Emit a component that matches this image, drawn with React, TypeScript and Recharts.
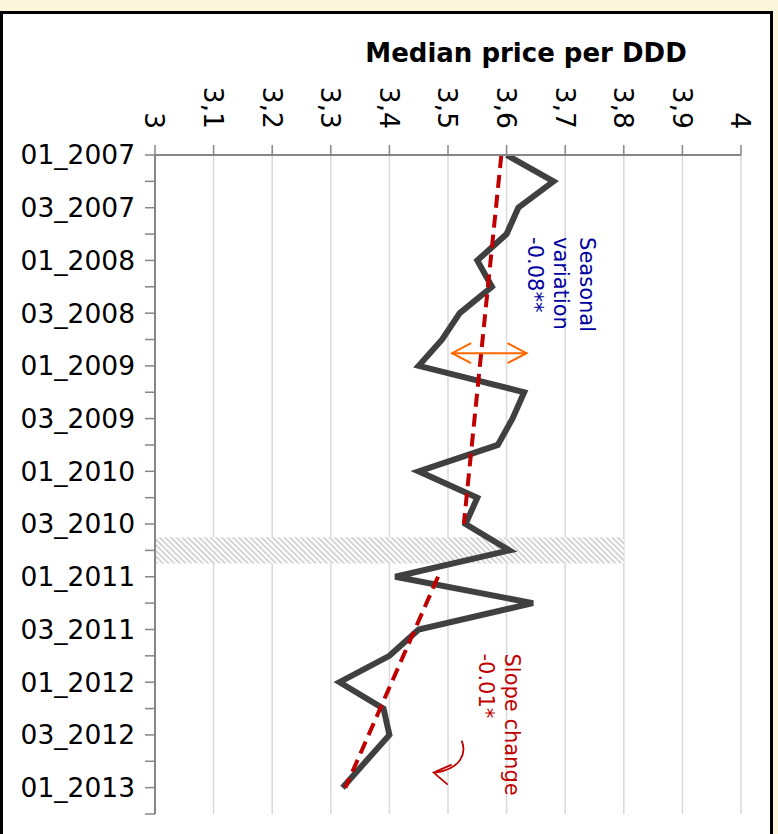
import React from 'react';
import {
  ComposedChart,
  Line,
  XAxis,
  YAxis,
  CartesianGrid,
  ReferenceArea,
  ReferenceDot,
  ReferenceLine,
} from 'recharts';

// ---------- data ----------
const periods = [
  '01_2007', '02_2007', '03_2007', '04_2007',
  '01_2008', '02_2008', '03_2008', '04_2008',
  '01_2009', '02_2009', '03_2009', '04_2009',
  '01_2010', '02_2010', '03_2010', '04_2010',
  '01_2011', '02_2011', '03_2011', '04_2011',
  '01_2012', '02_2012', '03_2012', '04_2012',
  '01_2013', '02_2013',
];

const medianPrice = [
  3.60, 3.68, 3.62, 3.60,
  3.55, 3.575, 3.52, 3.49,
  3.45, 3.63, 3.61, 3.585,
  3.45, 3.55, 3.53, 3.605,
  3.41, 3.645, 3.45, 3.40,
  3.315, 3.39, 3.40, 3.36,
  3.32,
];

const trendPrePeriods = ['01_2007', '03_2010'];
const trendPreValues = [3.591, 3.527];
const trendPostPeriods = ['01_2011', '01_2013'];
const trendPostValues = [3.483, 3.325];

const xTicks = [3, 3.1, 3.2, 3.3, 3.4, 3.5, 3.6, 3.7, 3.8, 3.9, 4];
const xTickLabels = ['3', '3,1', '3,2', '3,3', '3,4', '3,5', '3,6', '3,7', '3,8', '3,9', '4'];

const bandPeriod = '04_2010';
const bandValue = 3.8;

const seasonalLines = ['Seasonal', 'variation', '-0.08**'];
const slopeLines = ['Slope change', '-0.01*'];

const axisTitle = 'Median price per DDD';

// annotation anchors in data space
const seasonalAnchor = { x: 3.726, period: 3.114 };
const slopeAnchor = { x: 3.598, period: 18.91 };
const arrowRange = { x1: 3.507, x2: 3.634, period: 7.52 };
const curvedArrowTip = { x: 3.4755, period: 23.43 };

// ---------- derived tables ----------
const data = periods.map((p, i) => ({ idx: i, period: p, price: medianPrice[i] }));
const trendPreData = trendPrePeriods.map((p, i) => ({ idx: periods.indexOf(p), trend: trendPreValues[i] }));
const trendPostData = trendPostPeriods.map((p, i) => ({ idx: periods.indexOf(p), trend: trendPostValues[i] }));
const yTicks = periods.map((_, i) => i);
const bandIdx = periods.indexOf(bandPeriod);

const FONT = '"DejaVu Sans", Verdana, sans-serif';

const XTick = (props: any) => {
  const { x, y, payload } = props;
  const i = xTicks.findIndex((t) => Math.abs(t - payload.value) < 1e-9);
  const label = i >= 0 ? xTickLabels[i] : String(payload.value);
  return (
    <text
      x={x}
      y={y}
      transform={`rotate(90, ${x}, ${y})`}
      textAnchor="end"
      dy="0.36em"
      fill="#000"
      fontSize={26.5}
      fontFamily={FONT}
    >
      {label}
    </text>
  );
};

const RotatedText = ({ cx, cy, lines, color }: any) => (
  <g transform={`rotate(90, ${cx}, ${cy})`}>
    {lines.map((l: string, i: number) => (
      <text
        key={i}
        x={cx}
        y={cy + i * 26}
        textAnchor="start"
        fill={color}
        fontSize={21}
        fontFamily={FONT}
      >
        {l}
      </text>
    ))}
  </g>
);

const DoubleArrow = (props: any) => {
  const { x1, y1, x2, y2 } = props;
  const c = '#ff6600';
  return (
    <g fill="none" stroke={c} strokeWidth={2}>
      <line x1={x1} y1={y1} x2={x2} y2={y2} />
      <polyline points={`${x1 + 19},${y1 - 10} ${x1},${y1} ${x1 + 19},${y1 + 10}`} />
      <polyline points={`${x2 - 19},${y2 - 10} ${x2},${y2} ${x2 - 19},${y2 + 10}`} />
    </g>
  );
};

const CurvedArrow = ({ cx, cy }: any) => (
  <g fill="none" stroke="#c00000" strokeWidth={1.8} transform={`translate(${cx}, ${cy})`}>
    <path d="M 28 -32 C 33 -20, 28 -4, 2 0" />
    <polyline points="18,-8 0,0 14,12" />
  </g>
);

const AxisTitle = () => (
  <text x={526} y={62} textAnchor="middle" fontSize={26} fontWeight="bold" fontFamily={FONT} fill="#000">
    {axisTitle}
  </text>
);

export default function App() {
  return (
    <div
      style={{
        position: 'absolute',
        left: 0,
        top: 0,
        width: 778,
        height: 834,
        background: '#fdf6df',
        overflow: 'hidden',
      }}
    >
      <div
        style={{
          position: 'absolute',
          left: 0,
          top: 11,
          width: 767,
          height: 840,
          background: '#ffffff',
          border: '3px solid #000',
        }}
      />
      <div style={{ position: 'absolute', left: 0, top: 0 }}>
        <ComposedChart
          width={778}
          height={834}
          layout="vertical"
          data={data}
          margin={{ top: 0, right: 37, bottom: 20, left: 0 }}
        >
          <defs>
            <pattern
              id="hatch"
              width="4"
              height="4"
              patternUnits="userSpaceOnUse"
              patternTransform="rotate(-45)"
            >
              <rect x="0" y="0" width="4" height="4" fill="#ffffff" />
              <rect x="0" y="0" width="1.6" height="4" fill="#cbcbcb" />
            </pattern>
          </defs>
          <CartesianGrid horizontal={false} stroke="#d9d9d9" strokeWidth={1.5} />
          <XAxis
            type="number"
            orientation="top"
            domain={[3, 4]}
            ticks={xTicks}
            interval={0}
            height={155}
            allowDataOverflow
            axisLine={{ stroke: '#868686', strokeWidth: 2 }}
            tickLine={{ stroke: '#868686', strokeWidth: 1.5 }}
            tickSize={10}
            tickMargin={16}
            tick={<XTick />}
            label={<AxisTitle />}
          />
          <YAxis
            type="number"
            dataKey="idx"
            domain={[0, 25]}
            ticks={yTicks}
            interval={0}
            width={155}
            allowDataOverflow
            axisLine={{ stroke: '#868686', strokeWidth: 2 }}
            tickLine={{ stroke: '#868686', strokeWidth: 1.5 }}
            tickSize={10}
            tickMargin={10}
            tickFormatter={(v: number) => (v % 2 === 0 ? periods[v] : '')}
            tick={{ fill: '#000', fontSize: 26.5, fontFamily: FONT }}
          />
          <ReferenceArea
            x1={3}
            x2={bandValue}
            y1={bandIdx - 0.5}
            y2={bandIdx + 0.5}
            fill="url(#hatch)"
            fillOpacity={1}
            stroke="none"
          />
          <Line
            dataKey="price"
            stroke="#404040"
            strokeWidth={6}
            dot={false}
            activeDot={false}
            isAnimationActive={false}
          />
          <Line
            data={trendPreData}
            dataKey="trend"
            stroke="#c00000"
            strokeWidth={4}
            strokeDasharray="13 7"
            dot={false}
            activeDot={false}
            isAnimationActive={false}
          />
          <Line
            data={trendPostData}
            dataKey="trend"
            stroke="#c00000"
            strokeWidth={4}
            strokeDasharray="13 7"
            dot={false}
            activeDot={false}
            isAnimationActive={false}
          />
          <ReferenceLine
            segment={[
              { x: arrowRange.x1, y: arrowRange.period },
              { x: arrowRange.x2, y: arrowRange.period },
            ]}
            shape={(p: any) => <DoubleArrow {...p} />}
          />
          <ReferenceDot
            x={seasonalAnchor.x}
            y={seasonalAnchor.period}
            r={0}
            shape={(p: any) => <RotatedText cx={p.cx} cy={p.cy} lines={seasonalLines} color="#0000a0" />}
          />
          <ReferenceDot
            x={slopeAnchor.x}
            y={slopeAnchor.period}
            r={0}
            shape={(p: any) => <RotatedText cx={p.cx} cy={p.cy} lines={slopeLines} color="#c00000" />}
          />
          <ReferenceDot
            x={curvedArrowTip.x}
            y={curvedArrowTip.period}
            r={0}
            shape={(p: any) => <CurvedArrow cx={p.cx} cy={p.cy} />}
          />
        </ComposedChart>
      </div>
    </div>
  );
}
